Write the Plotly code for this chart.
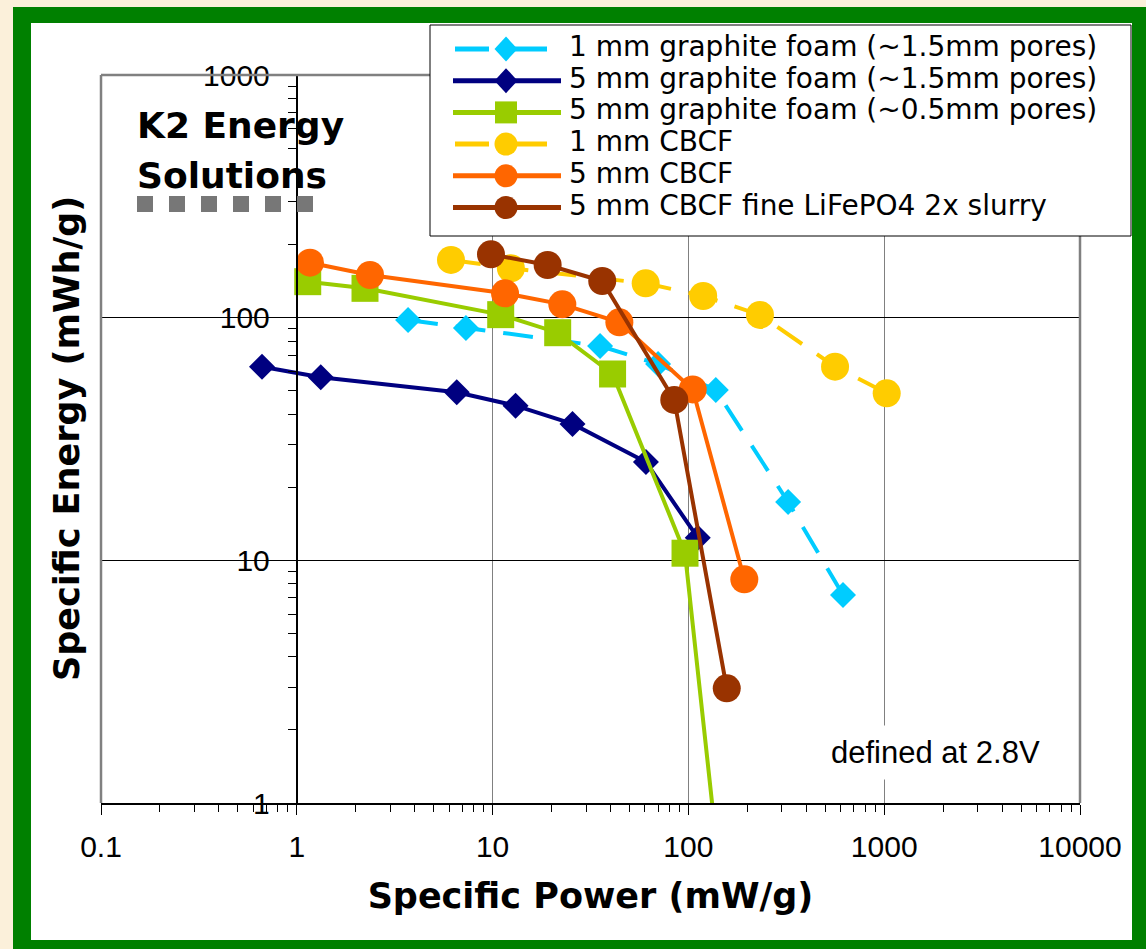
import plotly.graph_objects as go

# ---------------- data ----------------
series_names = [
    "1 mm graphite foam (~1.5mm pores)",
    "5 mm graphite foam (~1.5mm pores)",
    "5 mm graphite foam (~0.5mm pores)",
    "1 mm CBCF",
    "5 mm CBCF",
    "5 mm CBCF fine LiFePO4 2x slurry",
]

power_gf1_coarse = [3.70, 7.31, 35.4, 70.0, 138, 323, 616]
energy_gf1_coarse = [97.8, 90.7, 76.4, 64.4, 50.3, 17.4, 7.2]

power_gf5_coarse = [0.664, 1.325, 6.56, 13.1, 25.6, 60.7, 111.6]
energy_gf5_coarse = [62.8, 56.8, 49.3, 43.4, 36.5, 25.4, 12.4]

power_gf5_fine = [1.137, 2.23, 11.0, 21.5, 41.0, 96.1, 135]
energy_gf5_fine = [140.7, 132.1, 102.9, 86.7, 58.6, 10.7, 0.85]

power_cbcf1 = [6.13, 12.4, 60.5, 119, 232, 561, 1030]
energy_cbcf1 = [172.9, 159.8, 138.5, 122.8, 102.6, 62.8, 48.8]

power_cbcf5 = [1.168, 2.365, 11.57, 22.7, 44.4, 105.2, 193]
energy_cbcf5 = [168.5, 149.9, 126.0, 113.5, 95.7, 50.6, 8.35]

power_cbcf5_lfp = [9.81, 19.1, 36.3, 84.7, 157]
energy_cbcf5_lfp = [182.4, 164.8, 141.6, 45.8, 2.97]

x_tickvals = [0.1, 1, 10, 100, 1000, 10000]
x_ticktext = ["0.1", "1", "10", "100", "1000", "10000"]
y_tickvals = [1, 10, 100, 1000]
y_ticktext = ["1", "10", "100", "1000"]

# ---------------- styles ----------------
colors = ["#00CCFF", "#000080", "#99CC00", "#FFCC00", "#FF6600", "#993300"]
symbols = ["diamond", "diamond", "square", "circle", "circle", "circle"]
msizes = [20, 20, 27, 28, 28, 28]
dashes = ["30px,18px", "solid", "solid", "30px,18px", "solid", "solid"]

xs = [power_gf1_coarse, power_gf5_coarse, power_gf5_fine, power_cbcf1, power_cbcf5, power_cbcf5_lfp]
ys = [energy_gf1_coarse, energy_gf5_coarse, energy_gf5_fine, energy_cbcf1, energy_cbcf5, energy_cbcf5_lfp]

W, H = 1146, 949
L, R, T, B = 101, 66, 75, 146
PW = W - L - R
PH = H - T - B


def px(x):
    return (x - L) / PW


def py(y):
    return (H - B - y) / PH


fig = go.Figure()
for name, x, y, c, sym, ms, d in zip(series_names, xs, ys, colors, symbols, msizes, dashes):
    fig.add_trace(go.Scatter(
        x=x, y=y, name=name, mode="lines+markers",
        line=dict(color=c, width=4, dash=d),
        marker=dict(symbol=sym, size=ms, color=c, line=dict(width=0)),
        showlegend=False,
    ))

minor_x = [m * 10 ** k for k in range(-1, 4) for m in range(2, 10)]
minor_y = [m * 10 ** k for k in range(0, 3) for m in range(2, 10)]

TICKFONT = dict(family="Liberation Sans, Arial, sans-serif", size=30, color="black")
BOLD = "DejaVu Sans, Arial, sans-serif"
REG = "DejaVu Sans, Arial, sans-serif"

shapes = [
    # green frame and white card
    dict(type="rect", xref="paper", yref="paper", x0=px(13), x1=px(1170), y0=py(975), y1=py(7),
         fillcolor="#008000", line=dict(width=0), layer="below"),
    dict(type="rect", xref="paper", yref="paper", x0=px(31), x1=px(1132), y0=py(940), y1=py(23),
         fillcolor="white", line=dict(width=0), layer="below"),
    # gray plot-area frame
    dict(type="line", xref="paper", yref="paper", x0=0, x1=1, y0=1, y1=1,
         line=dict(color="#808080", width=2.5), layer="above"),
    dict(type="line", xref="paper", yref="paper", x0=0, x1=0, y0=0, y1=1,
         line=dict(color="#808080", width=2.5), layer="above"),
    dict(type="line", xref="paper", yref="paper", x0=1, x1=1, y0=0, y1=1,
         line=dict(color="#808080", width=2.5), layer="above"),
    # K2 dotted marker line
    dict(type="line", xref="paper", yref="paper", x0=px(137), x1=px(313), y0=py(204), y1=py(204),
         line=dict(color="#777777", width=16, dash="16px,16px"), layer="above"),
    # legend box
    dict(type="rect", xref="paper", yref="paper", x0=px(430), x1=px(1131), y0=py(236), y1=py(25),
         fillcolor="white", line=dict(color="black", width=1), layer="above"),
]

annotations = []

row_text_y = [46.5 + 31.7 * i for i in range(6)]
sw_x0, sw_x1, sw_mx = 453, 561, 506
for i, (name, c, sym) in enumerate(zip(series_names, colors, symbols)):
    yc = row_text_y[i] + 2.5
    if dashes[i] == "solid":
        shapes.append(dict(type="line", xref="paper", yref="paper", x0=px(sw_x0), x1=px(sw_x1),
                           y0=py(yc), y1=py(yc), line=dict(color=c, width=5), layer="above"))
    else:
        for a, b in [(455, 489), (513, 547)]:
            shapes.append(dict(type="line", xref="paper", yref="paper", x0=px(a), x1=px(b),
                               y0=py(yc), y1=py(yc), line=dict(color=c, width=5), layer="above"))
    common = dict(xref="paper", yref="paper", xsizemode="pixel", ysizemode="pixel",
                  xanchor=px(sw_mx), yanchor=py(yc), fillcolor=c, line=dict(width=0), layer="above")
    if sym == "circle":
        shapes.append(dict(type="circle", x0=-11.5, x1=11.5, y0=-11.5, y1=11.5, **common))
    elif sym == "square":
        shapes.append(dict(type="rect", x0=-11, x1=11, y0=-11, y1=11, **common))
    else:
        shapes.append(dict(type="path", path="M 0 12.5 L 11.5 0 L 0 -12.5 L -11.5 0 Z", **common))
    annotations.append(dict(xref="paper", yref="paper", x=px(568), y=py(row_text_y[i]),
                            xanchor="left", yanchor="middle", showarrow=False, text=name,
                            borderpad=0,
                            font=dict(family=REG, size=28, color="black")))

# K2 Energy Solutions
annotations.append(dict(xref="paper", yref="paper", x=px(135), y=py(125.5), xanchor="left", yanchor="middle",
                        showarrow=False, text="K2 Energy",
                        font=dict(family=BOLD, size=36, color="black", weight="bold")))
annotations.append(dict(xref="paper", yref="paper", x=px(135), y=py(175.5), xanchor="left", yanchor="middle",
                        showarrow=False, text="Solutions",
                        font=dict(family=BOLD, size=36, color="black", weight="bold")))
# note
annotations.append(dict(xref="paper", yref="paper", x=px(935), y=py(752), xanchor="center", yanchor="middle",
                        showarrow=False, text="defined at 2.8V", bgcolor="white", borderpad=9,
                        font=dict(family="Liberation Sans, Arial, sans-serif", size=31, color="black")))
# y title
annotations.append(dict(xref="paper", yref="paper", x=px(67), y=py(439), xanchor="center", yanchor="middle",
                        showarrow=False, text="Specific Energy (mWh/g)", textangle=-90,
                        font=dict(family=BOLD, size=35, color="black", weight="bold")))

fig.update_layout(
    width=W, height=H,
    template="none",
    margin=dict(l=L, r=R, t=T, b=B, pad=0),
    paper_bgcolor="#FBF0DA",
    plot_bgcolor="white",
    showlegend=False,
    shapes=shapes,
    annotations=annotations,
    xaxis=dict(
        type="log", range=[-1, 4], tickmode="array", tickvals=x_tickvals, ticktext=x_ticktext,
        ticks="outside", ticklen=10, tickwidth=1, tickcolor="black",
        showline=True, linecolor="black", linewidth=2,
        showgrid=True, gridcolor="#808080", gridwidth=1, zeroline=False,
        minor=dict(tickmode="array", tickvals=minor_x, ticks="outside", ticklen=7,
                   tickwidth=1, tickcolor="black", showgrid=False),
        tickfont=TICKFONT, ticklabelstandoff=6,
        title=dict(text="Specific Power (mW/g)", standoff=21,
                   font=dict(family=BOLD, size=35, color="black", weight="bold")),
        automargin=False, fixedrange=True,
    ),
    yaxis=dict(
        type="log", range=[0, 3], anchor="free", position=0.2,
        tickmode="array", tickvals=y_tickvals, ticktext=y_ticktext,
        ticks="outside", ticklen=8, tickwidth=1, tickcolor="black",
        showline=True, linecolor="black", linewidth=2,
        showgrid=True, gridcolor="black", gridwidth=1, zeroline=False,
        minor=dict(tickmode="array", tickvals=minor_y, ticks="outside", ticklen=8,
                   tickwidth=1, tickcolor="black", showgrid=False),
        tickfont=TICKFONT, ticklabelstandoff=12,
        automargin=False, fixedrange=True,
    ),
)

fig.write_html(
    "out.html",
    config={"displayModeBar": False},
    post_script="document.body.style.margin='0';document.body.style.overflow='hidden';"
                "document.body.style.background='#FBF0DA';",
)
